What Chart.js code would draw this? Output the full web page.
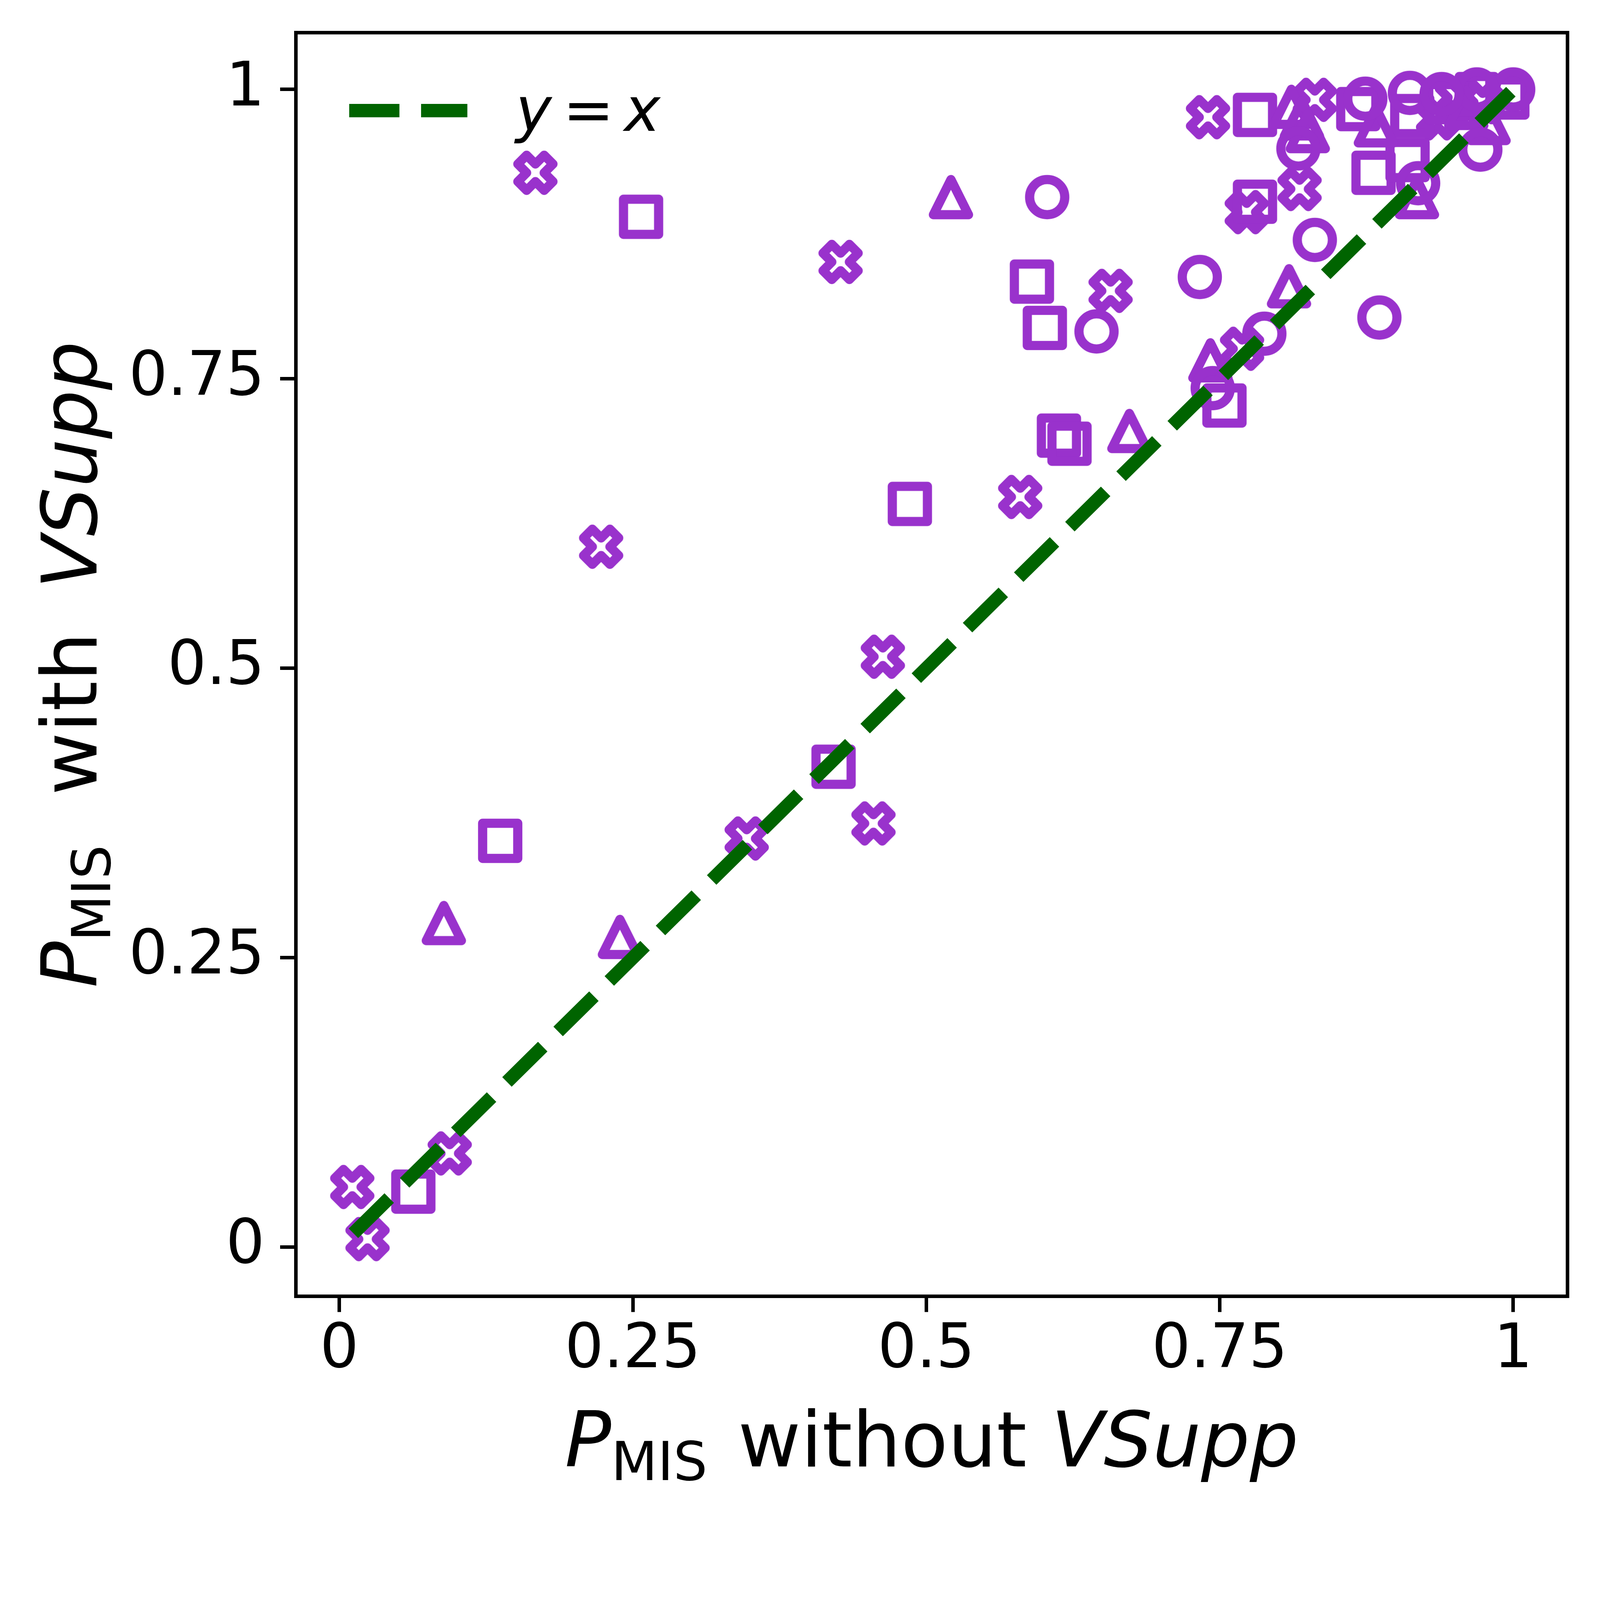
<!DOCTYPE html>
<html>
<head>
<meta charset="utf-8">
<script src="https://cdn.jsdelivr.net/npm/chart.js@4.4.0/dist/chart.umd.min.js"></script>
<style>
  html, body { margin: 0; padding: 0; background: #fff; overflow: hidden; }
  canvas { display: block; }
</style>
</head>
<body>
<canvas id="chart"></canvas>
<script>
// tick values and labels (both axes)
const TICKS = [0, 0.25, 0.5, 0.75, 1];
const TICK_LABELS = ["0", "0.25", "0.5", "0.75", "1"];

// series: x = P_MIS without VSupp, y = P_MIS with VSupp
const crossX = [0.011, 0.024, 0.094, 0.167, 0.223, 0.347, 0.427, 0.455, 0.463, 0.580, 0.657, 0.740, 0.773, 0.769, 0.818, 0.831, 0.936, 0.952, 0.974];
const crossY = [0.052, 0.007, 0.081, 0.928, 0.605, 0.353, 0.851, 0.366, 0.510, 0.648, 0.826, 0.976, 0.894, 0.776, 0.914, 0.991, 0.975, 0.993, 0.989];

const squareX = [0.063, 0.137, 0.257, 0.486, 0.421, 0.590, 0.601, 0.613, 0.622, 0.754, 0.780, 0.780, 0.881, 0.910, 0.868, 0.914, 0.943, 0.969, 0.995];
const squareY = [0.048, 0.351, 0.890, 0.642, 0.415, 0.834, 0.794, 0.701, 0.694, 0.727, 0.978, 0.903, 0.928, 0.939, 0.983, 0.977, 0.989, 0.996, 0.993];

const triX = [0.089, 0.239, 0.521, 0.673, 0.742, 0.809, 0.811, 0.820, 0.825, 0.883, 0.918, 0.979, 0.960];
const triY = [0.280, 0.268, 0.907, 0.705, 0.766, 0.830, 0.985, 0.975, 0.964, 0.969, 0.907, 0.971, 0.984];

const circleX = [0.603, 0.645, 0.733, 0.788, 0.744, 0.831, 0.886, 0.817, 0.874, 0.912, 0.919, 0.972, 1.000, 0.969, 0.939];
const circleY = [0.907, 0.791, 0.838, 0.789, 0.742, 0.870, 0.803, 0.949, 0.992, 0.997, 0.919, 0.948, 1.000, 1.000, 0.996];

// y = x reference line ends
const diagX = [0.012, 0.998];

const PURPLE = "#9932cc";
const GREEN = "#006400";
const FONT = "'DejaVu Sans'";

// everything below is laid out for a 4875 x 4610 page, scaled to the real viewport
const BASE_W = 4875, BASE_H = 4610;
const k = Math.min((window.innerWidth || BASE_W) / BASE_W, (window.innerHeight || BASE_H) / BASE_H);
const S = (v) => v * k;

function pts(xs, ys) {
  return xs.map((x, i) => ({ x: x, y: ys[i] }));
}

// matplotlib-like hollow markers drawn to small canvases
function markerCanvas(kind) {
  const dpr = window.devicePixelRatio || 1;
  const s = S(107), lw = S(28), pad = S(4);
  const size = Math.ceil(s + lw + pad * 2);
  const c = document.createElement("canvas");
  c.width = c.height = Math.ceil(size * dpr);
  const g = c.getContext("2d");
  g.scale(dpr, dpr);
  g.translate(size / 2, size / 2);
  g.strokeStyle = PURPLE;
  g.lineWidth = lw;
  g.lineJoin = "round";
  g.beginPath();
  const h = s / 2;
  if (kind === "circle") {
    g.arc(0, 0, h, 0, 2 * Math.PI);
  } else if (kind === "square") {
    g.rect(-h, -h, s, s);
  } else if (kind === "triangle") {
    g.moveTo(0, -h); g.lineTo(h, h); g.lineTo(-h, h); g.closePath();
  } else {
    const v = [[-1, -2], [0, -1], [1, -2], [2, -1], [1, 0], [2, 1], [1, 2], [0, 1], [-1, 2], [-2, 1], [-1, 0], [-2, -1]];
    v.forEach(([px, py], i) => i ? g.lineTo(px * h / 2, py * h / 2) : g.moveTo(px * h / 2, py * h / 2));
    g.closePath();
  }
  g.stroke();
  // drawImage uses the element's width/height, so hand back a canvas at css size
  if (dpr === 1) return c;
  const out = document.createElement("canvas");
  out.width = out.height = size;
  out.getContext("2d").drawImage(c, 0, 0, size, size);
  return out;
}

function drawRuns(ctx, runs, size) {
  let total = 0;
  runs.forEach(r => {
    const fs = r.sub ? size * 0.7 : size;
    ctx.font = (r.italic ? "italic " : "") + fs + "px " + FONT;
    r.w = ctx.measureText(r.t).width + (r.gap || 0) * size;
    total += r.w;
  });
  let x = -total / 2;
  runs.forEach(r => {
    const fs = r.sub ? size * 0.7 : size;
    ctx.font = (r.italic ? "italic " : "") + fs + "px " + FONT;
    ctx.fillText(r.t, x + (r.lead || 0) * size, r.sub ? size * 0.18 : 0);
    x += r.w;
  });
}

const decorPlugin = {
  id: "decor",
  afterDraw(chart) {
    const ctx = chart.ctx;
    const a = chart.chartArea;
    ctx.save();
    // frame
    ctx.strokeStyle = "#000";
    ctx.lineWidth = S(10.7);
    ctx.lineJoin = "miter";
    ctx.strokeRect(a.left, a.top, a.right - a.left, a.bottom - a.top);

    // legend
    ctx.strokeStyle = GREEN;
    ctx.lineWidth = S(41);
    ctx.lineCap = "butt";
    ctx.setLineDash([S(153), S(66)]);
    ctx.beginPath();
    ctx.moveTo(S(1064), S(337));
    ctx.lineTo(S(1424), S(337));
    ctx.stroke();
    ctx.setLineDash([]);
    ctx.fillStyle = "#000";
    ctx.textBaseline = "alphabetic";
    ctx.textAlign = "center";
    ctx.font = "italic " + S(186) + "px " + FONT;
    ctx.fillText("y", S(1626), S(399));
    ctx.fillText("x", S(1957), S(399));
    ctx.font = S(186) + "px " + FONT;
    ctx.fillText("=", S(1793), S(399));

    // axis titles
    ctx.textAlign = "left";
    const size = S(234);
    ctx.save();
    ctx.translate((a.left + a.right) / 2, S(4468));
    drawRuns(ctx, [
      { t: "P", italic: true },
      { t: "MIS", sub: true, gap: 0.08 },
      { t: " without " },
      { t: "VSupp", italic: true }
    ], size);
    ctx.restore();

    ctx.save();
    ctx.translate(S(294), (a.top + a.bottom) / 2);
    ctx.rotate(-Math.PI / 2);
    drawRuns(ctx, [
      { t: "P", italic: true },
      { t: "MIS", sub: true, gap: 0.08 },
      { t: " with ", gap: 0.5, lead: 0.25 },
      { t: "VSupp", italic: true }
    ], size);
    ctx.restore();
    ctx.restore();
  }
};

function axis(min, max, pad, isX) {
  return {
    type: "linear",
    min: min,
    max: max,
    afterBuildTicks(scale) {
      scale.ticks = TICKS.map(v => ({ value: v }));
    },
    afterFit(scale) {
      if (isX) scale.height = S(660); else scale.width = S(901.5);
      scale.paddingLeft = scale.paddingRight = scale.paddingTop = scale.paddingBottom = 0;
    },
    border: { display: true, color: "#000", width: S(10.7) },
    grid: {
      drawOnChartArea: false,
      drawTicks: true,
      tickLength: S(48),
      tickWidth: S(10.7),
      tickColor: "#000"
    },
    ticks: {
      padding: S(pad),
      color: "#000",
      font: { family: "DejaVu Sans", size: S(186) },
      maxRotation: 0,
      autoSkip: false,
      callback: (v) => TICK_LABELS[TICKS.indexOf(v)]
    },
    title: { display: false }
  };
}

const canvas = document.getElementById("chart");
canvas.width = Math.round(BASE_W * k);
canvas.height = Math.round(BASE_H * k);

new Chart(canvas.getContext("2d"), {
  type: "scatter",
  data: {
    datasets: [
      {
        label: "y = x",
        type: "line",
        data: pts(diagX, diagX),
        borderColor: GREEN,
        borderWidth: S(41),
        borderDash: [S(153), S(66)],
        borderCapStyle: "butt",
        pointRadius: 0,
        fill: false,
        order: 0
      },
      { label: "cross", data: pts(crossX, crossY), pointStyle: markerCanvas("cross"), pointRadius: S(54), order: 4 },
      { label: "square", data: pts(squareX, squareY), pointStyle: markerCanvas("square"), pointRadius: S(54), order: 3 },
      { label: "triangle", data: pts(triX, triY), pointStyle: markerCanvas("triangle"), pointRadius: S(54), order: 2 },
      { label: "circle", data: pts(circleX, circleY), pointStyle: markerCanvas("circle"), pointRadius: S(54), order: 1 }
    ]
  },
  options: {
    responsive: false,
    animation: false,
    layout: { padding: { left: 0, top: S(99.5), right: S(99), bottom: 0 } },
    plugins: {
      legend: { display: false },
      tooltip: { enabled: false }
    },
    scales: {
      x: axis(-0.03705, 1.04626, 8, true),
      y: axis(-0.04238, 1.04903, 47, false)
    }
  },
  plugins: [decorPlugin]
});
</script>
</body>
</html>
